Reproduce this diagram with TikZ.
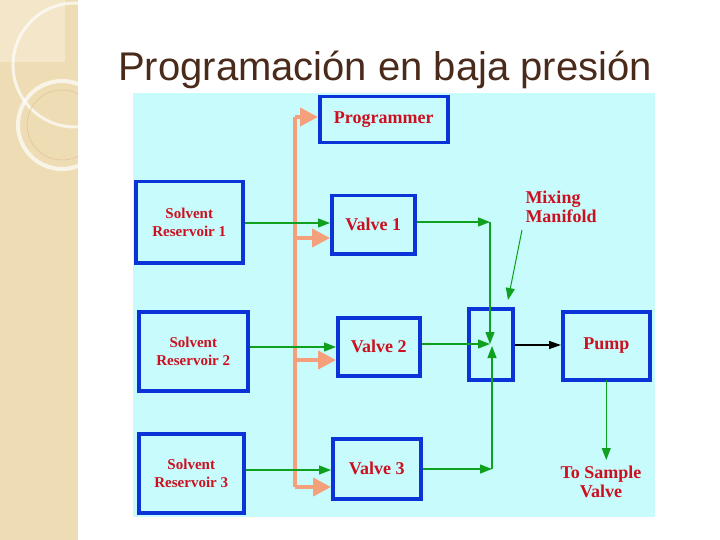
\documentclass[tikz,border=0pt]{standalone}
\usepackage{fontspec}
\setmainfont{Liberation Serif}
\newfontfamily\titlefont{Liberation Sans}
\usetikzlibrary{arrows.meta}
\definecolor{tan}{HTML}{EEDCB5}
\definecolor{tanlight}{HTML}{F4E6C8}
\definecolor{panel}{HTML}{C8FCFC}
\definecolor{bblue}{HTML}{0A33D8}
\definecolor{txtred}{HTML}{CC1020}
\definecolor{grn}{HTML}{10A020}
\definecolor{org}{HTML}{F4A07A}
\definecolor{ttl}{HTML}{4A2A1A}
\tikzset{
  x=1pt,y=-1pt,
  blk/.style={draw=bblue,line width=3.5pt,inner sep=0pt,anchor=north west,fill=panel},
  lbl/.style={text=txtred,font=\bfseries\fontsize{18}{19}\selectfont,align=center},
  sl/.style={text=txtred,font=\bfseries\fontsize{15}{18}\selectfont,align=center},
  gl/.style={draw=grn,line width=1.3pt,-{Triangle[length=12pt,width=9pt]}},
  ol/.style={draw=org,line width=4pt,-{Triangle[length=18pt,width=18pt]}}
}
\begin{document}
\begin{tikzpicture}
\useasboundingbox (0,0) rectangle (720,540);
\fill[white] (0,0) rectangle (720,540);
\fill[tan] (0,0) rectangle (78,540);
\fill[tanlight] (0,0) rectangle (65,62);
\begin{scope}
\clip (0,0) rectangle (78,540);
\draw[white,opacity=.7,line width=3pt] (75,65) circle (62);
\draw[white,opacity=.7,line width=4pt] (62,125) circle (44);
\draw[tan!70!brown,line width=.5pt] (62,125) circle (35);
\end{scope}
\node[anchor=base west,text=ttl,font=\titlefont\fontsize{40}{42}\selectfont,inner sep=0pt] (title) at (118,81) {Programación en baja presión};
\fill[panel] (133,93) rectangle (655,517);
% boxes
\node[blk,minimum width=128pt,minimum height=46pt] (prog) at (318,95) {};
\node[lbl] at (prog.center) {Programmer};
\node[blk,minimum width=107pt,minimum height=81pt] (s1) at (134,180) {};
\node[sl] at (s1.center) {Solvent\\Reservoir 1};
\node[blk,minimum width=109pt,minimum height=79pt] (s2) at (137,310) {};
\node[sl] at (s2.center) {Solvent\\Reservoir 2};
\node[blk,minimum width=105pt,minimum height=79pt] (s3) at (137,432) {};
\node[sl] at (s3.center) {Solvent\\Reservoir 3};
\node[blk,minimum width=83pt,minimum height=58pt] (v1) at (330,194) {};
\node[lbl] at (v1.center) {Valve 1};
\node[blk,minimum width=82pt,minimum height=58pt] (v2) at (336,316) {};
\node[lbl] at (v2.center) {Valve 2};
\node[blk,minimum width=88pt,minimum height=60pt] (v3) at (331,437) {};
\node[lbl] at (v3.center) {Valve 3};
\node[blk,minimum width=44pt,minimum height=71pt,fill=none] (mix) at (467,307) {};
\node[blk,minimum width=87pt,minimum height=68pt] (pump) at (561,310) {};
\node[lbl] at (pump.center) {Pump};
\node[lbl,align=left] (mixl) at (561,207) {Mixing\\Manifold};
\node[lbl] (tos) at (601,482) {To Sample\\Valve};
% coordinates
\coordinate (j1) at (490,222);
\coordinate (j3) at (492,469);
\coordinate (mc) at (490,344);
\coordinate (pb) at (pump.south |- 0,460);
\coordinate (ob) at (295,487);
\coordinate (ot) at (295,117);
% orange bus
\draw[org,line width=4pt] (ob) -- (ot);
\draw[ol] (ot) -- (prog.west |- ot);
\draw[ol] (295,238) -- (v1.west |- 0,238);
\draw[ol] (295,360) -- (v2.west |- 0,360);
\draw[ol] (ob) -- (v3.west |- ob);
% green
\draw[gl] (s1.east |- 0,223) -- (v1.west |- 0,223);
\draw[gl] (s2.east |- 0,347) -- (v2.west |- 0,347);
\draw[gl] (s3.east |- 0,470) -- (v3.west |- 0,470);
\draw[gl] (v1.east |- j1) -- (j1);
\draw[gl] (j1) -- (mc);
\draw[gl] (v2.east |- mc) -- (mc);
\draw[gl] (v3.east |- j3) -- (j3);
\draw[gl] (j3) -- (492,346);
\draw[gl] (pump.south |- 0,380) -- (pb);
\draw[gl,line width=1pt] (522,230) -- (508,300);
\draw[line width=1.5pt,-{Triangle[length=12pt,width=8pt]}] (mix.east |- 0,345) -- (pump.west |- 0,345);
\end{tikzpicture}
\end{document}
